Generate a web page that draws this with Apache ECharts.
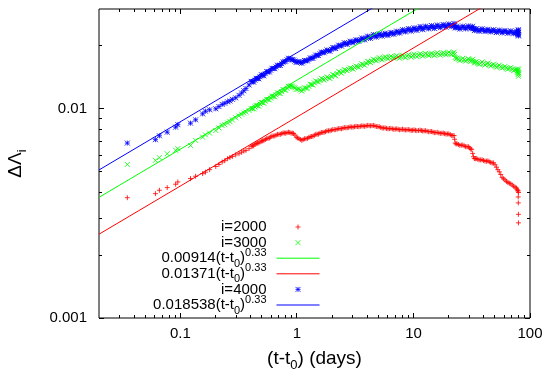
<!DOCTYPE html>
<html><head><meta charset="utf-8">
<script src="https://cdn.jsdelivr.net/npm/echarts@6/dist/echarts.min.js"></script>
<style>html,body{margin:0;padding:0;background:#fff}#c{width:550px;height:375px}</style>
</head><body><div id="c"></div>
<script>
// ---- data ----
const times = [0.035,0.061,0.066,0.077,0.091,0.095,0.122,0.135,0.155,0.164,0.178,0.201,0.214,0.228,0.240,0.254,0.266,0.279,0.298,0.318,0.335,0.350,0.365,0.388,
0.405,0.425,0.447,0.47,0.495,0.52,0.55,0.58,0.61,0.645,
0.68,0.72,0.76,0.80,0.845,0.89,0.935,0.985,1.04,1.10,
1.16,1.23,1.30,1.37,1.45,1.53,1.62,1.71,1.81,1.92,
2.03,2.15,2.28,2.41,2.55,2.70,2.86,3.03,3.21,3.40,
3.60,3.81,4.04,4.28,4.53,4.80,5.08,5.38,5.70,6.04,
6.40,6.78,7.18,7.60,8.05,8.53,9.03,9.57,10.1,10.7,
11.4,12.0,12.7,13.5,14.3,15.1,16.0,17.0,18.0,19.0,
20.1,21.3,22.3,22.8,23.6,25.0,26.5,28.0,29.6,31.0,
32.2,33.3,34.6,36.6,38.8,41.1,43.5,46.0,48.7,51.5,
54.5,57.7,61.0,64.6,68.4,72.4,76.6,78.6,79.2,79.4,
79.5,79.6,79.7];

const i2000 = [0.00376,0.00393,0.00408,0.0042,0.00436,0.00447,0.00464,0.00476,0.0049,0.00498,
0.00512,0.0053,0.00542,0.00557,0.00565,0.00578,0.00585,0.00592,0.00602,0.0061,
0.0062,0.00628,0.00633,0.00645,
0.00663,0.00665,0.00683,0.00687,0.00701,0.00705,0.00721,0.00725,0.00741,0.00742,
0.00755,0.00755,0.00767,0.00765,0.00773,0.00765,0.00762,0.00732,0.00720,0.00707,
0.00719,0.00722,0.00736,0.00739,0.00755,0.00757,0.00771,0.00772,0.00785,0.00785,
0.00796,0.00795,0.00805,0.00803,0.00813,0.00811,0.00820,0.00817,0.00825,0.00821,
0.00829,0.00825,0.00833,0.00829,0.00833,0.00823,0.00821,0.00809,0.00811,0.00802,
0.00806,0.00798,0.00802,0.00794,0.00799,0.00792,0.00796,0.00788,0.00793,0.00786,
0.00791,0.00783,0.00786,0.00777,0.00779,0.00769,0.00772,0.00763,0.00766,0.00757,
0.00759,0.00745,0.00745,0.00686,0.00681,0.00669,0.00671,0.00659,0.00659,0.00642,
0.00612,0.00578,0.00579,0.00570,0.00571,0.00562,0.00564,0.00554,0.00551,0.00526,
0.00500,0.00470,0.00457,0.00444,0.00438,0.00426,0.00418,0.00406,0.00379,0.00355,
0.00313,0.00285,0.00398];

const i3000 = [0.00542,0.00567,0.00584,0.0061,0.00633,0.00645,0.00668,0.00706,0.00732,0.0075,
0.00765,0.00788,0.0081,0.00832,0.0084,0.00855,0.00868,0.00885,0.00906,0.00925,
0.00942,0.00955,0.00965,0.00981,
0.01000,0.00998,0.01035,0.01028,0.01072,0.01062,0.01110,0.01102,0.01150,0.01140,
0.01192,0.01182,0.01235,0.01226,0.01280,0.01285,0.01270,0.01240,0.01245,0.01215,
0.01260,0.01255,0.01310,0.01300,0.01360,0.01342,0.01400,0.01372,0.01420,0.01395,
0.01460,0.01440,0.01510,0.01480,0.01540,0.01520,0.01570,0.01548,0.01600,0.01578,
0.01640,0.01615,0.01685,0.01665,0.01725,0.01695,0.01755,0.01715,0.01775,0.01735,
0.01785,0.01745,0.01795,0.01745,0.01805,0.01755,0.01815,0.01765,0.01825,0.01775,
0.01835,0.01785,0.01840,0.01795,0.01845,0.01795,0.01855,0.01805,0.01855,0.01815,
0.01865,0.01815,0.01865,0.01760,0.01745,0.01700,0.01745,0.01690,0.01735,0.01685,
0.01725,0.01655,0.01685,0.01630,0.01675,0.01620,0.01655,0.01600,0.01635,0.01580,
0.01615,0.01565,0.01595,0.01545,0.01575,0.01525,0.01545,0.01490,0.01530,0.01460,
0.01550,0.01430,0.01480];

const i4000 = [0.00686,0.00712,0.00743,0.00773,0.00817,0.0084,0.00854,0.00886,0.00946,0.00974,
0.00989,0.0100,0.01025,0.0105,0.01063,0.0108,0.0109,0.0111,0.01128,0.0116,
0.0119,0.0122,0.0125,0.0130,
0.01352,0.01342,0.01398,0.01392,0.01455,0.01438,0.01505,0.01500,0.01562,0.01555,
0.01615,0.01612,0.01672,0.01688,0.01745,0.01722,0.01712,0.01668,0.01682,0.01650,
0.01702,0.01695,0.01750,0.01742,0.01805,0.01800,0.01868,0.01852,0.01912,0.01885,
0.01965,0.01940,0.02015,0.01995,0.02070,0.02030,0.02105,0.02070,0.02140,0.02100,
0.02180,0.02135,0.02225,0.02170,0.02265,0.02200,0.02285,0.02225,0.02300,0.02240,
0.02320,0.02270,0.02350,0.02300,0.02390,0.02330,0.02420,0.02350,0.02440,0.02370,
0.02475,0.02390,0.02485,0.02410,0.02500,0.02420,0.02515,0.02440,0.02530,0.02455,
0.02545,0.02470,0.02560,0.02440,0.02480,0.02405,0.02485,0.02410,0.02490,0.02415,
0.02480,0.02365,0.02420,0.02345,0.02415,0.02340,0.02400,0.02330,0.02390,0.02315,
0.02380,0.02305,0.02370,0.02295,0.02360,0.02285,0.02350,0.02270,0.02390,0.02250,
0.02370,0.02230,0.02320];

// second set of samples in the dense part (band centre)
const timesMid = [0.415,0.436,0.458,0.482,0.507,0.535,0.565,0.595,0.627,0.662,
0.70,0.74,0.78,0.822,0.867,0.912,0.96,1.012,1.07,1.13,
1.195,1.265,1.335,1.41,1.49,1.575,1.665,1.76,1.865,1.975,
2.09,2.215,2.345,2.48,2.625,2.78,2.945,3.12,3.305,3.50,
3.705,3.925,4.16,4.405,4.665,4.94,5.23,5.54,5.87,6.22,
6.59,6.98,7.39,7.82,8.29,8.78,9.30,9.83,10.4,11.05,
11.7,12.35,13.1,13.9,14.7,15.55,16.5,17.5,18.5,19.55,
20.7,21.8,22.55,23.2,24.3,25.75,27.25,28.8,30.3,31.6,
32.75,33.95,35.6,37.7,39.95,42.3,44.75,47.35,50.1,53.0,
56.1,59.35,62.8,66.5,70.4,74.5,77.6,78.9];

const i2000Mid = [0.00664,0.00675,0.00685,0.00694,0.00703,0.00713,0.00723,0.00733,0.00741,0.00748,
0.00755,0.00761,0.00766,0.00769,0.00770,0.00765,0.00750,0.00726,0.00713,0.00712,
0.00720,0.00729,0.00737,0.00747,0.00756,0.00764,0.00771,0.00778,0.00785,0.00790,
0.00795,0.00800,0.00804,0.00808,0.00812,0.00815,0.00818,0.00821,0.00823,0.00825,
0.00827,0.00829,0.00831,0.00831,0.00828,0.00822,0.00815,0.00810,0.00806,0.00804,
0.00802,0.00800,0.00798,0.00796,0.00795,0.00794,0.00792,0.00790,0.00789,0.00788,
0.00787,0.00784,0.00781,0.00778,0.00774,0.00770,0.00767,0.00764,0.00761,0.00758,
0.00752,0.00745,0.00715,0.00679,0.00675,0.00670,0.00665,0.00659,0.00650,0.00640,
0.00590,0.00578,0.00574,0.00570,0.00566,0.00562,0.00558,0.00551,0.00540,0.00512,
0.00485,0.00463,0.00450,0.00441,0.00432,0.00422,0.00412,0.00405];

const i3000Mid = [0.01003,0.01020,0.01036,0.01053,0.01070,0.01088,0.01108,0.01125,0.01145,0.01165,
0.01188,0.01208,0.01230,0.01253,0.01280,0.01282,0.01260,0.01242,0.01230,0.01235,
0.01255,0.01280,0.01305,0.01330,0.01350,0.01370,0.01385,0.01395,0.01408,0.01428,
0.01450,0.01475,0.01495,0.01510,0.01530,0.01545,0.01560,0.01575,0.01590,0.01610,
0.01630,0.01650,0.01675,0.01695,0.01710,0.01725,0.01735,0.01745,0.01755,0.01760,
0.01765,0.01770,0.01770,0.01775,0.01780,0.01785,0.01790,0.01795,0.01800,0.01805,
0.01810,0.01812,0.01815,0.01818,0.01820,0.01825,0.01828,0.01830,0.01835,0.01838,
0.01840,0.01840,0.01820,0.01735,0.01725,0.01720,0.01715,0.01712,0.01710,0.01705,
0.01690,0.01668,0.01655,0.01650,0.01645,0.01637,0.01628,0.01618,0.01608,0.01598,
0.01588,0.01578,0.01568,0.01558,0.01548,0.01535,0.01520,0.01505];

const i4000Mid = [0.01347,0.01370,0.01395,0.01423,0.01447,0.01472,0.01502,0.01530,0.01558,0.01585,
0.01613,0.01642,0.01680,0.01716,0.01735,0.01717,0.01690,0.01675,0.01666,0.01676,
0.01698,0.01722,0.01746,0.01773,0.01802,0.01834,0.01860,0.01882,0.01898,0.01925,
0.01952,0.01978,0.02005,0.02032,0.02050,0.02068,0.02088,0.02105,0.02120,0.02140,
0.02158,0.02180,0.02198,0.02218,0.02232,0.02242,0.02255,0.02262,0.02270,0.02280,
0.02295,0.02310,0.02325,0.02345,0.02360,0.02375,0.02385,0.02395,0.02405,0.02422,
0.02432,0.02438,0.02448,0.02455,0.02460,0.02468,0.02478,0.02485,0.02492,0.02500,
0.02508,0.02515,0.02500,0.02442,0.02442,0.02445,0.02448,0.02450,0.02452,0.02448,
0.02420,0.02392,0.02382,0.02380,0.02378,0.02370,0.02365,0.02360,0.02352,0.02348,
0.02342,0.02338,0.02332,0.02328,0.02322,0.02318,0.02310,0.02300];

// fitted power-law lines (end points across the x range)
const fitRedLine = [[0.02, 0.002515], [100, 0.04178]];
const fitGreenLine = [[0.02, 0.003773], [100, 0.06267]];
const fitBlueLine = [[0.02, 0.005102], [100, 0.08474]];

const seriesNames = ['i=2000', 'i=3000', '0.00914(t-t0)^0.33', '0.01371(t-t0)^0.33', 'i=4000', '0.018538(t-t0)^0.33'];

const xMajorTicks = [0.1, 1, 10, 100];
const xTickLabels = ['0.1', '1', '10', '100'];
const xMinorTicks = [0.03,0.04,0.05,0.06,0.07,0.08,0.09,0.2,0.3,0.4,0.5,0.6,0.7,0.8,0.9,2,3,4,5,6,7,8,9,20,30,40,50,60,70,80,90];
const yMajorTicks = [0.001, 0.01];
const yTickLabels = ['0.001', '0.01'];
const yMinorTicks = [0.002,0.003,0.004,0.005,0.006,0.007,0.008,0.009,0.02];

const X_MIN = 0.02, X_MAX = 100, Y_MIN = 0.001, Y_MAX = 0.03;

// ---- chart ----
const FONT = '"Liberation Sans", Arial, Helvetica, sans-serif';
const PLUS = 'path://M0,5L10,5M5,0L5,10';
const CROSS = 'path://M0,0L10,10M0,10L10,0';
const STAR = 'path://M0,5L10,5M5,0L5,10M0,0L10,10M0,10L10,0';

function pair(ts, vals) { const n = Math.min(ts.length, vals.length); const out = []; for (let k = 0; k < n; k++) out.push([ts[k], vals[k]]); return out; }
function labelFor(v, ticks, labels) { for (let k = 0; k < ticks.length; k++) if (Math.abs(v / ticks[k] - 1) < 1e-6) return labels[k]; return ''; }
function crisp(v) { return Math.round(v - 0.5) + 0.5; }

function renderXTick(params, api) {
  const v = api.value(0), major = api.value(2);
  const len = major ? 5 : 3;
  const b = api.coord([v, Y_MIN]), t = api.coord([v, Y_MAX]);
  const x = crisp(b[0]);
  const st = { stroke: '#000', lineWidth: 1 };
  return { type: 'group', children: [
    { type: 'line', shape: { x1: x, y1: b[1], x2: x, y2: b[1] - len }, style: st },
    { type: 'line', shape: { x1: x, y1: t[1], x2: x, y2: t[1] + len }, style: st }
  ] };
}
function renderYTick(params, api) {
  const v = api.value(1), major = api.value(2);
  const len = major ? 5 : 3;
  const l = api.coord([X_MIN, v]), r = api.coord([X_MAX, v]);
  const y = crisp(l[1]);
  const st = { stroke: '#000', lineWidth: 1 };
  return { type: 'group', children: [
    { type: 'line', shape: { x1: l[0], y1: y, x2: l[0] + len, y2: y }, style: st },
    { type: 'line', shape: { x1: r[0], y1: y, x2: r[0] - len, y2: y }, style: st }
  ] };
}

const xTickData = xMajorTicks.map(v => [v, Y_MIN, 1]).concat(xMinorTicks.map(v => [v, Y_MIN, 0]));
const yTickData = yMajorTicks.map(v => [X_MIN, v, 1]).concat(yMinorTicks.map(v => [X_MIN, v, 0]));

const legendRich = {
  m: { fontFamily: FONT, color: '#000', fontSize: 15, lineHeight: 22, verticalAlign: 'middle' },
  sub: { fontFamily: FONT, color: '#000', fontSize: 11, lineHeight: 10, verticalAlign: 'bottom' },
  sup: { fontFamily: FONT, color: '#000', fontSize: 11, lineHeight: 10, verticalAlign: 'top' }
};
const titleRich = {
  m: { fontFamily: FONT, color: '#000', fontSize: 19, lineHeight: 26, verticalAlign: 'middle' },
  s: { fontFamily: FONT, color: '#000', fontSize: 13, lineHeight: 10, verticalAlign: 'bottom' }
};

function legendText(n) {
  const k = n.indexOf('(t-t0)^0.33');
  if (k < 0) return '{m|' + n + '}';
  return '{m|' + n.slice(0, k) + '(t-t}{sub|0}{m|)}{sup|0.33}';
}

const lineIdx = [2, 3, 5];

const option = {
  animation: false,
  backgroundColor: '#fff',
  grid: { left: 99, right: 20, top: 9, bottom: 57, show: true, borderColor: '#000', borderWidth: 1, backgroundColor: 'transparent', outerBoundsMode: 'none', containLabel: false },
  xAxis: {
    type: 'log', logBase: 10, min: X_MIN, max: X_MAX,
    axisLine: { show: false }, axisTick: { show: false }, splitLine: { show: false }, minorTick: { show: false },
    axisLabel: { color: '#000', fontFamily: FONT, fontSize: 15, margin: 8, formatter: v => labelFor(v, xMajorTicks, xTickLabels), showMinLabel: true, showMaxLabel: true, hideOverlap: false },
    name: '{m|(t-t}{s|0}{m|) (days)}', nameLocation: 'middle', nameGap: 24,
    nameTextStyle: { color: '#000', fontFamily: FONT, fontSize: 19, lineHeight: 26, rich: titleRich }
  },
  yAxis: {
    type: 'log', logBase: 10, min: Y_MIN, max: Y_MAX,
    axisLine: { show: false }, axisTick: { show: false }, splitLine: { show: false }, minorTick: { show: false },
    axisLabel: { color: '#000', fontFamily: FONT, fontSize: 15, margin: 12, formatter: v => labelFor(v, yMajorTicks, yTickLabels), showMinLabel: true, showMaxLabel: true, hideOverlap: false },
    name: '{m|\u0394\u039B}{s|i}', nameLocation: 'middle', nameGap: 70, nameRotate: 90,
    nameTextStyle: { color: '#000', fontFamily: FONT, fontSize: 19, lineHeight: 26, rich: titleRich }
  },
  legend: {
    data: seriesNames.map((n, k) => lineIdx.indexOf(k) >= 0 ? { name: n, itemStyle: { opacity: 0 } } : { name: n }),
    orient: 'vertical', align: 'right', right: 230, top: 216,
    itemWidth: 43, itemHeight: 5, itemGap: -6.4, padding: 0, selectedMode: false,
    itemStyle: { borderWidth: 1 },
    lineStyle: { width: 1 },
    textStyle: { color: '#000', fontFamily: FONT, fontSize: 15, lineHeight: 22, padding: [0, 5, 0, 0], rich: legendRich },
    formatter: legendText
  },
  series: [
    { name: seriesNames[0], type: 'scatter', data: pair(times, i2000).concat(pair(timesMid, i2000Mid)), symbol: PLUS, symbolSize: 5,
      itemStyle: { color: '#ff0000', borderColor: '#ff0000', borderWidth: 1 }, emphasis: { disabled: true }, large: false },
    { name: seriesNames[1], type: 'scatter', data: pair(times, i3000).concat(pair(timesMid, i3000Mid)), symbol: CROSS, symbolSize: 5,
      itemStyle: { color: '#00ff00', borderColor: '#00ff00', borderWidth: 1 }, emphasis: { disabled: true }, large: false },
    { name: seriesNames[2], type: 'line', data: fitGreenLine, symbol: 'none', clip: true,
      lineStyle: { color: '#00ff00', width: 1 }, itemStyle: { color: '#00ff00', opacity: 0 }, emphasis: { disabled: true } },
    { name: seriesNames[3], type: 'line', data: fitRedLine, symbol: 'none', clip: true,
      lineStyle: { color: '#ff0000', width: 1 }, itemStyle: { color: '#ff0000', opacity: 0 }, emphasis: { disabled: true } },
    { name: seriesNames[4], type: 'scatter', data: pair(times, i4000).concat(pair(timesMid, i4000Mid)), symbol: STAR, symbolSize: 5,
      itemStyle: { color: '#0000ff', borderColor: '#0000ff', borderWidth: 1 }, emphasis: { disabled: true }, large: false },
    { name: seriesNames[5], type: 'line', data: fitBlueLine, symbol: 'none', clip: true,
      lineStyle: { color: '#0000ff', width: 1 }, itemStyle: { color: '#0000ff', opacity: 0 }, emphasis: { disabled: true } },
    { type: 'custom', data: xTickData, renderItem: renderXTick, clip: false, silent: true, z: 10 },
    { type: 'custom', data: yTickData, renderItem: renderYTick, clip: false, silent: true, z: 10 }
  ]
};

const chart = echarts.init(document.getElementById('c'), null, { renderer: 'canvas' });
chart.setOption(option);
</script>
</body></html>
